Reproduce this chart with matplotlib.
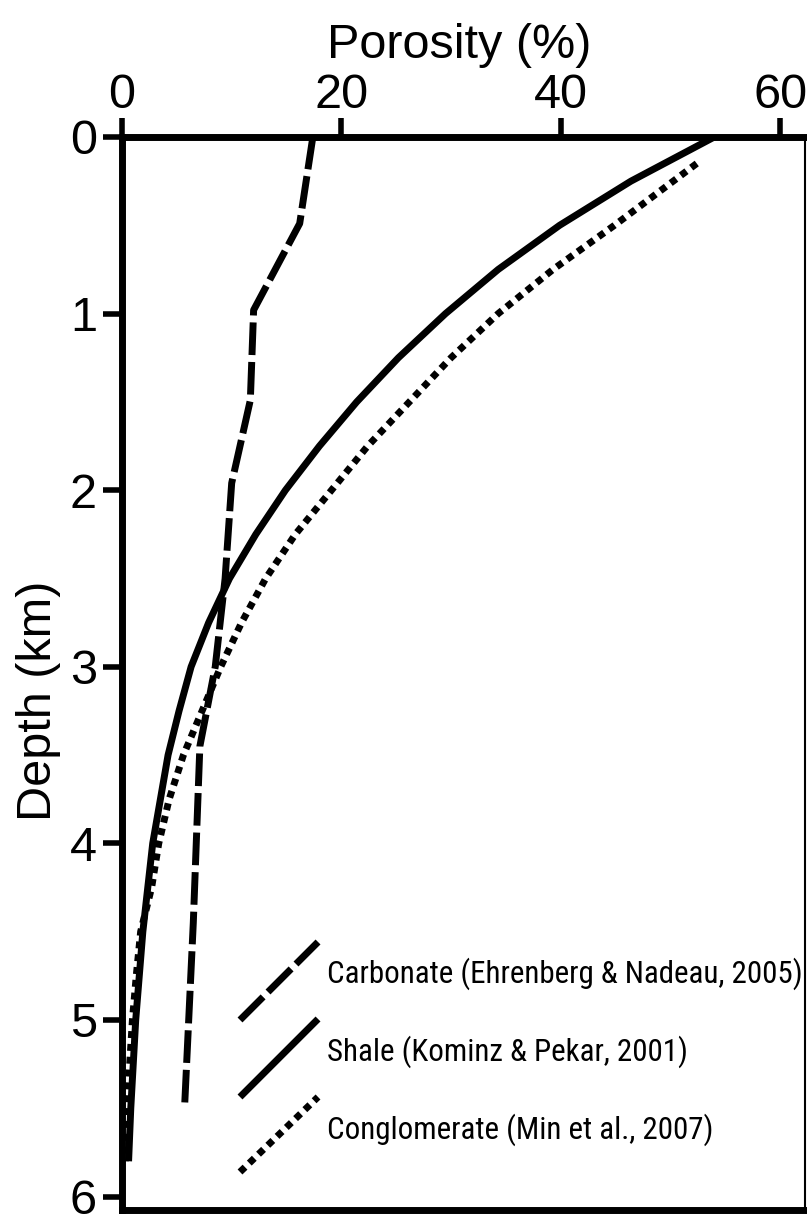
import os
import matplotlib
matplotlib.use('Agg')
import matplotlib.pyplot as plt
from matplotlib import font_manager as fm

# ---- data (porosity %, depth km) ----
carb_por = [17.4, 16.2, 12.0, 11.7, 10.0, 9.4, 8.5, 7.1, 6.5, 5.7]
carb_dep = [0.0, 0.49, 0.98, 1.49, 1.96, 2.5, 3.0, 3.45, 4.45, 5.5]

shale_por = [54.0, 46.4, 39.9, 34.3, 29.5, 25.2, 21.4, 18.0, 14.9, 12.2,
             9.8, 7.9, 6.3, 5.2, 4.2, 2.8, 1.9, 1.25, 0.8, 0.6]
shale_dep = [0.0, 0.25, 0.5, 0.75, 1.0, 1.25, 1.5, 1.75, 2.0, 2.25,
             2.5, 2.75, 3.0, 3.25, 3.5, 4.0, 4.5, 5.0, 5.5, 5.8]

cong_por = [52.4, 44.9, 39.3, 34.3, 30.0, 26.2, 22.4, 19.1, 15.8, 13.1,
            10.9, 9.0, 7.3, 5.6, 4.3, 3.35, 2.7, 1.7, 1.3, 0.95, 0.7, 0.45, 0.3]
cong_dep = [0.15, 0.5, 0.75, 1.0, 1.25, 1.5, 1.75, 2.0, 2.25, 2.5,
            2.75, 3.0, 3.25, 3.5, 3.75, 4.0, 4.25, 4.5, 4.75, 5.0, 5.25, 5.5, 5.8]

x_ticks = [0, 20, 40, 60]
y_ticks = [0, 1, 2, 3, 4, 5, 6]
legend_labels = ["Carbonate (Ehrenberg & Nadeau, 2005)",
                 "Shale (Kominz & Pekar, 2001)",
                 "Conglomerate (Min et al., 2007)"]

# ---- fonts ----
main_font = ['Liberation Sans', 'DejaVu Sans']
plt.rcParams['font.family'] = main_font


def pick_narrow():
    best = None
    for f in fm.fontManager.ttflist:
        fn = os.path.basename(f.fname).lower()
        low = (f.name + ' ' + fn).lower()
        if f.style != 'normal':
            continue
        w = f.weight
        if isinstance(w, str):
            if w not in ('normal', 'regular', 'book'):
                continue
        elif w != 400:
            continue
        if 'narrow' not in low and 'condensed' not in low:
            continue
        if 'liberation' in low or 'arial' in low:
            pr = 0
        elif 'notosans-condensed.' in fn:
            pr = 1
        elif 'roboto' in low and 'semi' not in low and 'extra' not in low:
            pr = 2
        elif 'semi' in low or 'extra' in low:
            pr = 6
        elif 'mono' in low or 'serif' in low:
            pr = 8
        else:
            pr = 4
        if best is None or pr < best[0]:
            best = (pr, f.fname)
    return best[1] if best else None


narrow = pick_narrow()
if narrow:
    leg_prop = fm.FontProperties(fname=narrow)
else:
    leg_prop = fm.FontProperties(family='Liberation Sans')

W, H = 807, 1216
fig = plt.figure(figsize=(W / 100, H / 100), dpi=100)
left, right, top, bottom = 122, 805, 137, 1210
ax = fig.add_axes([left / W, 1 - bottom / H, (right - left) / W, (bottom - top) / H])

LW = 5
dash_style = (0, (4.7, 1.0))
dot_style = (0, (1.0, 0.85))

ax.plot(carb_por, carb_dep, color='black', lw=LW, linestyle=dash_style,
        dash_capstyle='butt')
ax.plot(shale_por, shale_dep, color='black', lw=LW, solid_capstyle='butt')
ax.plot(cong_por, cong_dep, color='black', lw=LW, linestyle=dot_style,
        dash_capstyle='butt')

ax.set_xlim(0, 62.27)
ax.set_ylim(6.076, 0)

ax.xaxis.tick_top()
ax.set_xticks(x_ticks)
ax.set_yticks(y_ticks)
ax.tick_params(axis='both', which='major', direction='out', length=13.7,
               width=4, labelsize=35, color='black')
ax.tick_params(axis='x', pad=0)
ax.tick_params(axis='y', pad=4.3)

for s in ['left', 'top', 'bottom']:
    ax.spines[s].set_linewidth(5)
ax.spines['right'].set_linewidth(1.5)

ax.set_ylabel('Depth (km)', fontsize=35)
ax.yaxis.set_label_coords(-0.089, 0.475)

fig.text(459 / W, 1 - 58 / H, 'Porosity (%)', ha='center', va='baseline',
         fontsize=35)

# ---- manual legend ----
px_per_x = (780 - 122) / 60.0
px_per_y = (1196.6 - 137) / 6.0


def dx(px):
    return (px - left) / px_per_x


def dy(py):
    return (py - top) / px_per_y


styles = [dict(linestyle=dash_style, dash_capstyle='butt'),
          dict(linestyle='-', solid_capstyle='butt'),
          dict(linestyle=dot_style, dash_capstyle='butt')]
seg_bottom = [1020, 1097, 1172]
seg_top = [942, 1019, 1097]
text_y = [974, 1052, 1130]
texts = []
for lab, st, b, t, ty in zip(legend_labels, styles, seg_bottom, seg_top, text_y):
    ax.plot([dx(240), dx(318)], [dy(b), dy(t)], color='black', lw=LW, **st)
    tx = ax.text(dx(327), dy(ty), lab, ha='left', va='center',
                 fontproperties=leg_prop, fontsize=20, clip_on=False)
    texts.append(tx)

# fit legend font size so the first entry spans the same width as in the reference
fig.canvas.draw()
r = fig.canvas.get_renderer()
wpx = texts[0].get_window_extent(r).width
new_size = 20 * 475.0 / wpx
for tx in texts:
    tx.set_fontsize(new_size)

fig.savefig('out.png', dpi=100)
